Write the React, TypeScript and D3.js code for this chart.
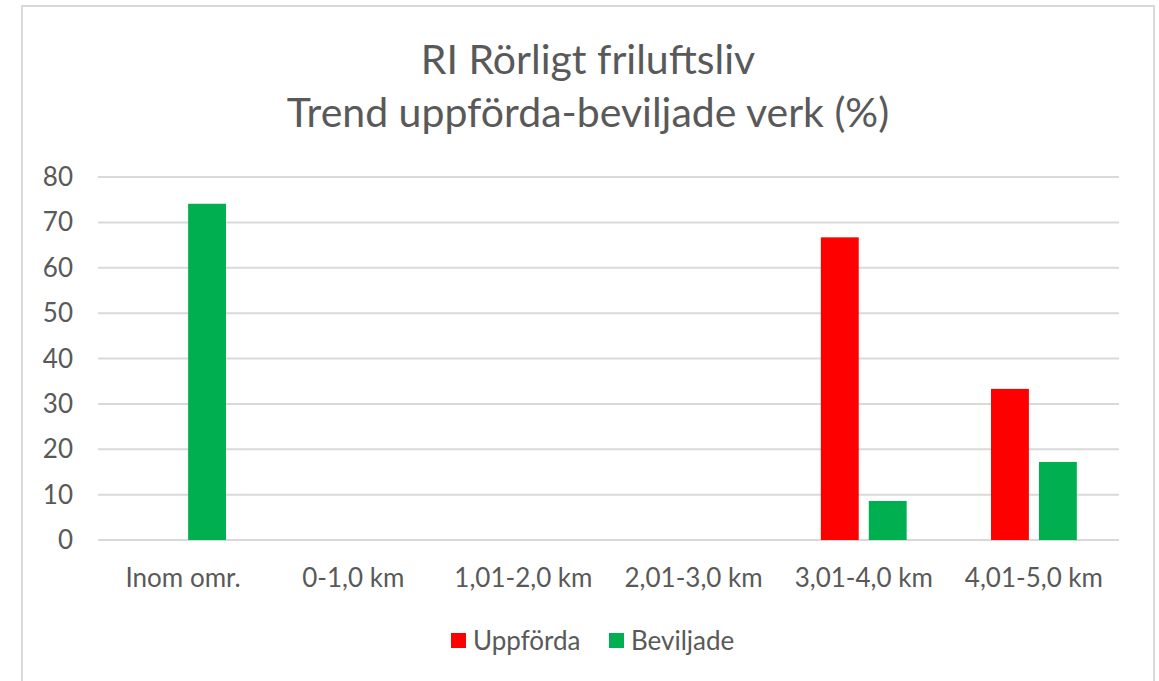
import React, { useEffect, useRef } from "react";
import * as d3 from "d3";

const categories = ["Inom omr.", "0-1,0 km", "1,01-2,0 km", "2,01-3,0 km", "3,01-4,0 km", "4,01-5,0 km"];
const seriesNames = ["Uppförda", "Beviljade"];
const uppforda = [0, 0, 0, 0, 66.7, 33.3];
const beviljade = [74.1, 0, 0, 0, 8.6, 17.2];
const seriesColors = ["#ff0000", "#00b050"];
const yTicks = [0, 10, 20, 30, 40, 50, 60, 70, 80];
const titleLines = ["RI Rörligt friluftsliv", "Trend uppförda-beviljade verk (%)"];

function App() {
    const chart = useRef<SVGSVGElement>(null);

    useEffect(() => {
        const width = 1159;
        const height = 681;
        const margin = { top: 177, right: 40, bottom: 141, left: 98 };
        const font = "Lato, 'Open Sans', sans-serif";
        const textColor = "#595959";
        const labelSize = 26;

        const svg = d3.select(chart.current)
            .attr("width", width)
            .attr("height", height);

        // chart border
        svg.append("rect")
            .attr("x", 22)
            .attr("y", 6)
            .attr("width", 1132)
            .attr("height", 700)
            .attr("fill", "#fff")
            .attr("stroke", "#d9d9d9")
            .attr("stroke-width", 2);

        // title
        svg.selectAll(".title")
            .data(titleLines)
            .enter()
            .append("text")
            .attr("class", "title")
            .attr("x", 588)
            .attr("y", (d, i) => 74 + i * 53)
            .attr("text-anchor", "middle")
            .attr("font-family", font)
            .attr("font-size", 41)
            .attr("fill", textColor)
            .text(d => d);

        const x0 = d3.scaleBand<string>()
            .domain(categories)
            .range([margin.left, width - margin.right]);

        const x1 = d3.scaleBand<string>()
            .domain(seriesNames)
            .range([0, x0.bandwidth()])
            .paddingInner(0.21)
            .paddingOuter(0.88);

        const y = d3.scaleLinear()
            .domain([0, 80])
            .range([height - margin.bottom, margin.top]);

        // gridlines
        svg.selectAll(".grid")
            .data(yTicks)
            .enter()
            .append("line")
            .attr("class", "grid")
            .attr("x1", margin.left)
            .attr("x2", width - margin.right)
            .attr("y1", d => y(d))
            .attr("y2", d => y(d))
            .attr("stroke", "#d9d9d9")
            .attr("stroke-width", 2);

        // y tick labels
        svg.selectAll(".ytick")
            .data(yTicks)
            .enter()
            .append("text")
            .attr("class", "ytick")
            .attr("x", 73)
            .attr("y", d => y(d))
            .attr("dy", "0.35em")
            .attr("text-anchor", "end")
            .attr("font-family", font)
            .attr("font-size", labelSize)
            .attr("fill", textColor)
            .text(d => d);

        // bars
        const seriesData = [uppforda, beviljade];
        seriesData.forEach((values, s) => {
            svg.selectAll(".bar-" + s)
                .data(values)
                .enter()
                .append("rect")
                .attr("class", "bar-" + s)
                .attr("x", (d, i) => (x0(categories[i]) as number) + (x1(seriesNames[s]) as number))
                .attr("y", d => y(d))
                .attr("width", x1.bandwidth())
                .attr("height", d => y(0) - y(d))
                .attr("fill", seriesColors[s]);
        });

        // category labels
        svg.selectAll(".xtick")
            .data(categories)
            .enter()
            .append("text")
            .attr("class", "xtick")
            .attr("x", d => (x0(d) as number) + x0.bandwidth() / 2)
            .attr("y", 578)
            .attr("dy", "0.35em")
            .attr("text-anchor", "middle")
            .attr("font-family", font)
            .attr("font-size", labelSize)
            .attr("fill", textColor)
            .text(d => d);

        // legend
        const legendX = [451, 609];
        const legend = svg.selectAll(".legend")
            .data(seriesNames)
            .enter()
            .append("g")
            .attr("class", "legend")
            .attr("transform", (d, i) => "translate(" + legendX[i] + ",633)");
        legend.append("rect")
            .attr("width", 15)
            .attr("height", 15)
            .attr("fill", (d, i) => seriesColors[i]);
        legend.append("text")
            .attr("x", 22)
            .attr("y", 7.5)
            .attr("dy", "0.35em")
            .attr("font-family", font)
            .attr("font-size", labelSize)
            .attr("fill", textColor)
            .text(d => d);

        return () => {
            svg.selectAll("*").remove();
        };
    }, []);

    return (
        <svg ref={chart} style={{ position: "absolute", left: 0, top: 0, display: "block" }}></svg>
    );
}

export default App;
